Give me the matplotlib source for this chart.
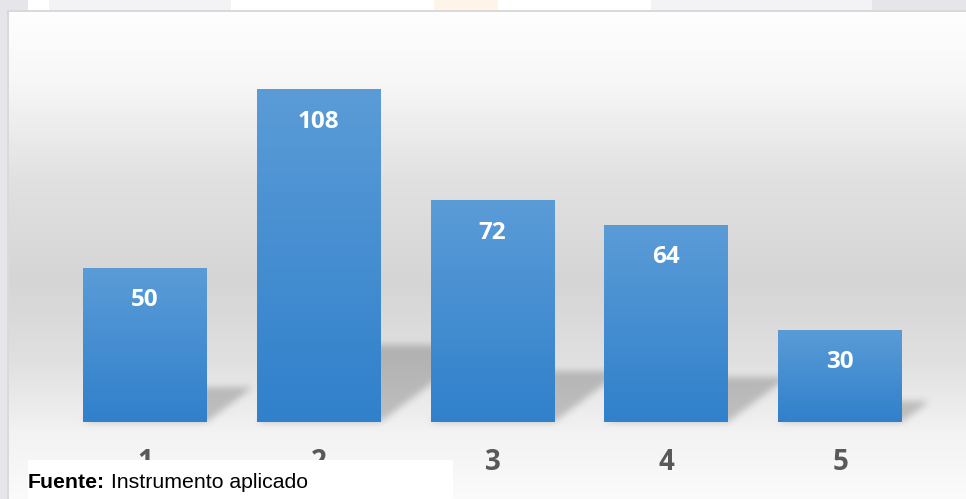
import numpy as np
import matplotlib
matplotlib.use("Agg")
import matplotlib.pyplot as plt
from matplotlib.patches import Rectangle

# chart data
categories = ["1", "2", "3", "4", "5"]
values = [50, 108, 72, 64, 30]
source_bold = "Fuente:"
source_text = " Instrumento aplicado"

W, H = 966, 499
DPI = 100

fig = plt.figure(figsize=(W / DPI, H / DPI), dpi=DPI)

# main plot area
ax = fig.add_axes([58 / W, (H - 422) / H, 869 / W, 370 / H], zorder=2)
ax.set_facecolor("none")
x = np.arange(len(categories))
bar_w = 0.713
bars = ax.bar(x, values, width=bar_w, color="none", edgecolor="none", zorder=3)
ax.set_xlim(-0.5, len(categories) - 0.5)
ax.set_ylim(0, 120)

# gradient fill for each bar
grad = np.linspace(0, 1, 256)[:, None]
top_c = np.array([91, 156, 215]) / 255
bot_c = np.array([48, 128, 203]) / 255
grad_img = top_c[None, None, :] * (1 - grad[..., None]) + bot_c[None, None, :] * grad[..., None]
for b in bars:
    im = ax.imshow(grad_img, extent=(b.get_x(), b.get_x() + b.get_width(), 0, b.get_height()),
                   aspect="auto", origin="upper", zorder=3)
    im.set_clip_path(b)

ax.set_xlim(-0.5, len(categories) - 0.5)
ax.set_ylim(0, 120)

for b, v in zip(bars, values):
    ax.annotate(str(v), xy=(b.get_x() + b.get_width() / 2, v), xytext=(0, -23.5),
                textcoords="offset points", ha="center", va="center",
                color="white", fontsize=17.5, fontweight="bold", family="Open Sans", zorder=5)

ax.set_xticks(x)
ax.set_xticklabels(categories, fontsize=20, fontweight="bold", color="#595959", family="Open Sans")
ax.tick_params(axis="x", length=0, pad=19)
ax.set_yticks([])
for s in ax.spines.values():
    s.set_visible(False)

# background image: page strips, chart area gradient, bar shadows
bg = np.ones((H, W, 3))
rows = np.arange(H)
stops_y = [12, 80, 180, 280, 360, 430, 499]
stops_v = [254, 247, 225, 213, 224, 242, 251]
g = np.interp(rows, stops_y, stops_v) / 255
bg[:, :, :] = g[:, None, None]

# shadows, computed from bar positions through the axes transform
fig.canvas.draw()
ys_disp = H - rows - 0.5
xs_disp = np.arange(W) + 0.5
XX, YY = np.meshgrid(xs_disp, ys_disp)
mask = np.zeros((H, W))
skew, depth = 1.32, 0.23
for b in bars:
    (x0, yb), (x1, yt) = ax.transData.transform([(b.get_x(), 0), (b.get_x() + b.get_width(), b.get_height())])
    hh = (yt - yb) * depth
    d = YY - yb
    inside = (d >= 0) & (d <= hh) & (XX >= x0 + skew * d) & (XX <= x1 + skew * d)
    mask[inside] = 1
bb = ax.get_window_extent()
mask[(XX > bb.x1) | (XX < bb.x0)] = 0


def box_blur(a, r):
    k = np.ones(2 * r + 1) / (2 * r + 1)
    a = np.apply_along_axis(lambda m: np.convolve(m, k, mode="same"), 0, a)
    a = np.apply_along_axis(lambda m: np.convolve(m, k, mode="same"), 1, a)
    return a


mask = box_blur(box_blur(mask, 4), 3)
bg *= (1 - 0.2 * mask)[:, :, None]

# page surroundings
lav = np.array([229, 229, 234]) / 255
bg[:12, :, :] = 1.0
for x0, x1, col in [(0, 28, lav), (49, 231, [243, 243, 245]), (434, 498, [255, 244, 232]),
                    (651, 872, [243, 243, 245]), (872, W, lav)]:
    c = np.array(col) / 255 if max(col) > 1 else np.array(col)
    bg[:11, x0:x1, :] = c
bg[:, :7, :] = lav
bg[10:12, 7:, :] = 217 / 255
bg[10:, 7:9, :] = 217 / 255

bgax = fig.add_axes([0, 0, 1, 1], zorder=0)
bgax.imshow(bg, extent=(0, W, 0, H), origin="upper", aspect="auto")
bgax.set_xlim(0, W)
bgax.set_ylim(0, H)
bgax.axis("off")

# source box on top
top = fig.add_axes([0, 0, 1, 1], zorder=10)
top.set_facecolor("none")
top.set_xlim(0, W)
top.set_ylim(H, 0)
top.axis("off")
top.add_patch(Rectangle((28, 460), 425, 40, facecolor="white", edgecolor="none"))
t1 = top.text(28, 488, source_bold, fontsize=15.3, fontweight="bold", family="Liberation Sans",
              color="black", va="baseline")
top.annotate(source_text, xy=(1, 0), xycoords=t1, va="bottom", ha="left",
             fontsize=15.3, family="Liberation Sans", color="black")

fig.savefig("out.png", dpi=DPI)
